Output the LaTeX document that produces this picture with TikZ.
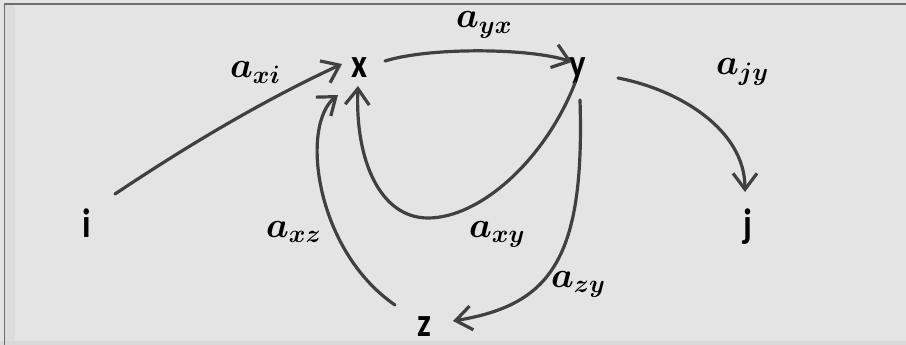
\RequirePackage{fix-cm}
\documentclass[tikz,border=0pt]{standalone}
\usepackage{amsmath}
\usepackage{fontspec}
\newfontfamily\nodefont[FakeStretch=0.85]{Carlito}
\usetikzlibrary{arrows.meta,calc}
\definecolor{bg}{HTML}{E4E4E4}
\definecolor{bgstrip}{HTML}{D9D9D9}
\definecolor{frame}{HTML}{6E6E6E}
\definecolor{linec}{HTML}{404040}
\begin{document}
\begin{tikzpicture}[x=1pt,y=-1pt,
  vtx/.style={anchor=base,inner sep=0pt,text=black,font=\nodefont\bfseries\fontsize{41}{41}\selectfont},
  wt/.style={anchor=base west,inner sep=0pt,text=black,font=\fontsize{36}{36}\selectfont},
  edge/.style={draw=linec,line width=3.2pt,line cap=round,-{Straight Barb[length=16pt,width=24pt]}},
  ]
\useasboundingbox (0,0) rectangle (906,345);
% background
\fill[bg] (0,0) rectangle (906,345);
\fill[bgstrip] (0,341) rectangle (906,345);
\fill[bgstrip!60!bg] (5,4) rectangle (15,341);
\draw[frame,line width=1.5pt] (4.5,345) -- (4.5,4) -- (906,4);

% vertices
\node[vtx] (i) at (87,237) {i};
\node[vtx] (x) at (360,78) {x};
\node[vtx] (y) at (578,78) {y};
\node[vtx] (j) at (748,237) {j};
\node[vtx] (z) at (424,336) {z};

% weights
\node[wt] (lyx) at (456,28) {$\boldsymbol{a}_{\boldsymbol{yx}}$};
\node[wt] (lxi) at (230,78) {$\boldsymbol{a}_{\boldsymbol{xi}}$};
\node[wt] (ljy) at (716,75) {$\boldsymbol{a}_{\boldsymbol{jy}}$};
\node[wt] (lxz) at (266,237) {$\boldsymbol{a}_{\boldsymbol{xz}}$};
\node[wt] (lxy) at (469,237) {$\boldsymbol{a}_{\boldsymbol{xy}}$};
\node[wt] (lzy) at (551,287) {$\boldsymbol{a}_{\boldsymbol{zy}}$};

% connectors
\draw[edge] ($(i.base)+(28,-43)$) .. controls (187,146) and (262,101) .. ($(x.base)+(-18,-14)$);
\draw[edge] ($(x.base)+(25,-17)$) .. controls (430,47) and (530,48) .. ($(y.base)+(-6,-16)$);
\draw[edge] ($(y.base)+(-3,5)$) .. controls (545,160) and (480,218) .. (428,218)
            .. controls (380,218) and (355,160) .. ($(x.base)+(-2,8)$);
\draw[edge] ($(z.base)+(-29,-31)$) .. controls (315,250) and (300,125) .. ($(x.base)+(-22,17)$);
\draw[edge] ($(y.base)+(2,22)$) .. controls (585,260) and (550,305) .. ($(z.base)+(29,-15)$);
\draw[edge] ($(y.base)+(40,0)$) .. controls (680,90) and (745,130) .. ($(j.base)+(-3,-45)$);
\end{tikzpicture}
\end{document}
